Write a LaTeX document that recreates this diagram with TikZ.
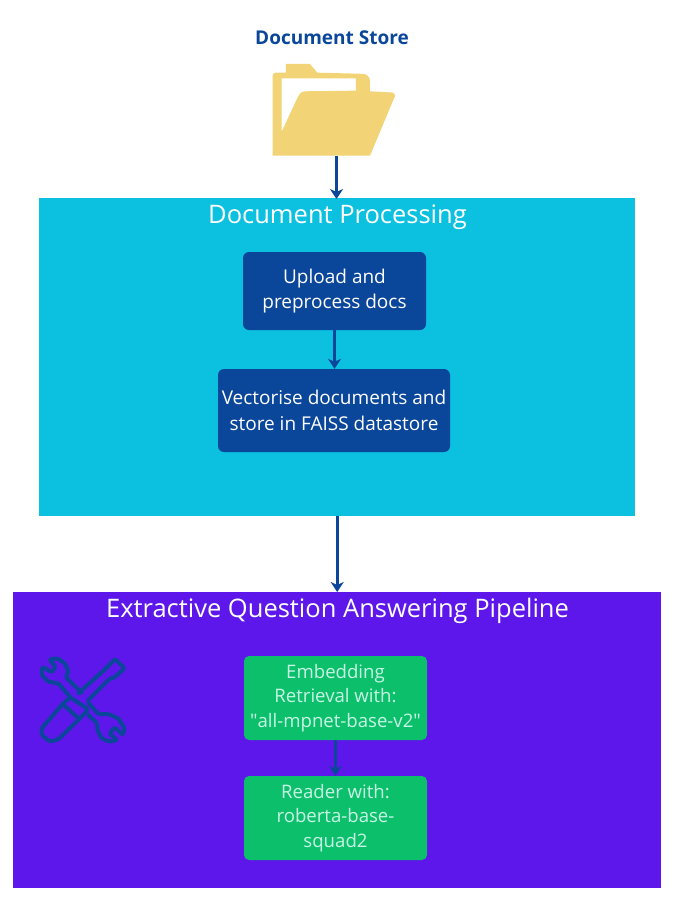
\documentclass[tikz,border=0pt]{standalone}
\usepackage{fontspec}
\setmainfont{Open Sans}
\newfontfamily\plainq{Open Sans}
\definecolor{navy}{HTML}{0A4699}
\definecolor{cyanbg}{HTML}{0CC0DF}
\definecolor{purplebg}{HTML}{5E17EB}
\definecolor{greenbox}{HTML}{0BBF6B}
\definecolor{folderc}{HTML}{F2D375}
\definecolor{mintt}{HTML}{C8F5E6}
\usetikzlibrary{arrows.meta}
\tikzset{
  titletext/.style={text=white,font=\fontsize{25.5}{30}\selectfont,inner sep=0pt},
  bluebox/.style={fill=navy,rounded corners=6pt,text=white,align=center,inner sep=0pt,font=\fontsize{19}{25.5}\selectfont},
  grnbox/.style={fill=greenbox,rounded corners=5pt,text=mintt,align=center,inner sep=0pt,font=\fontsize{18.6}{24.5}\selectfont},
  flow/.style={draw=navy,line width=3pt,-{Stealth[length=10pt,width=13pt,inset=3pt]}},
  iconline/.style={draw=navy,line width=4pt,line join=round,line cap=round,rounded corners=1.5pt},
}
\begin{document}
\begin{tikzpicture}[x=1pt,y=-1pt]
\useasboundingbox (0,0) rectangle (683,916);
\fill[white] (0,0) rectangle (683,916);
% Panels
\node[fill=cyanbg,minimum width=596pt,minimum height=318pt,inner sep=0pt,anchor=north west] (proc) at (39,198) {};
\node[fill=purplebg,minimum width=648pt,minimum height=296pt,inner sep=0pt,anchor=north west] (pipe) at (13,592) {};
% Titles
\node[text=navy,font=\bfseries\fontsize{19}{22}\selectfont,inner sep=0pt] (storetitle) at (332,37.5) {Document Store};
\node[titletext] (proctitle) at (337.5,217) {Document Processing};
\node[titletext] (pipetitle) at (337.5,611) {Extractive Question Answering Pipeline};
% Folder
\begin{scope}[shift={(230,20)},x=0.3333pt,y=-0.3333pt]
\fill[folderc,even odd rule]
  (128,407) -- (128,172) [rounded corners=3pt] -- (128,158) [sharp corners] -- (168,158) -- (168,132) -- (240,132) -- (262,158)
  [rounded corners=7pt] -- (420,162) [sharp corners] -- (420,214) [rounded corners=3pt] -- (495,218) [sharp corners] -- (495,228) -- (420,407) -- cycle
  (155,175) -- (155,335) [rounded corners=3pt] -- (205,228) -- (215,214) [sharp corners] -- (378,212) -- (378,175) -- cycle;
\end{scope}
\coordinate (folderfoot) at (336.5,156);
\coordinate (procentry) at (336.5,199);
% Process boxes
\node[bluebox,minimum width=183pt,minimum height=78pt] (upload) at (334.5,291) {Upload and\\preprocess docs};
\node[bluebox,minimum width=232pt,minimum height=83pt] (vector) at (334,410.5) {Vectorise documents and\\store in FAISS datastore};
% Pipeline boxes
\node[grnbox,minimum width=183pt,minimum height=84pt] (embed) at (335.5,698) {Embedding\\Retrieval with:\\{\plainq"}all-mpnet-base-v2{\plainq"}};
\node[grnbox,minimum width=183pt,minimum height=84pt] (reader) at (335.5,818) {Reader with:\\roberta-base-\\squad2};
% Tools icon
\begin{scope}[shift={(20,640)},x=0.3333pt,y=-0.3333pt]
\draw[iconline] (150,170) -- (115,130) -- (85,125) -- (65,105) -- (67,80) -- (95,97) -- (107,80) -- (88,58) -- (112,55) -- (135,70) -- (145,95) -- (138,112) -- (185,158);
\draw[iconline] (205,188) -- (235,222) -- (265,222) -- (295,235) -- (314,265) -- (308,285) -- (285,262) -- (268,280) -- (292,300) -- (268,305) -- (245,295) -- (232,270) -- (232,250) -- (205,225);
\draw[iconline] (128,192) -- (65,265) -- (65,285) -- (90,305) -- (115,298) -- (180,235) -- (205,208) -- (150,172) -- cycle;
\draw[iconline] (128,192) -- (172,232);
\draw[iconline] (175,160) -- (258,85) -- (285,57) -- (314,85) -- (280,115) -- (270,115) -- (205,180);
\end{scope}
% Connectors
\draw[flow] (folderfoot) -- (procentry);
\draw[flow] (proc.south) -- (pipe.north);
\draw[flow] (upload.south) -- (vector.north -| upload.south);
\draw[flow] (embed.south) -- (reader.north);
\end{tikzpicture}
\end{document}
